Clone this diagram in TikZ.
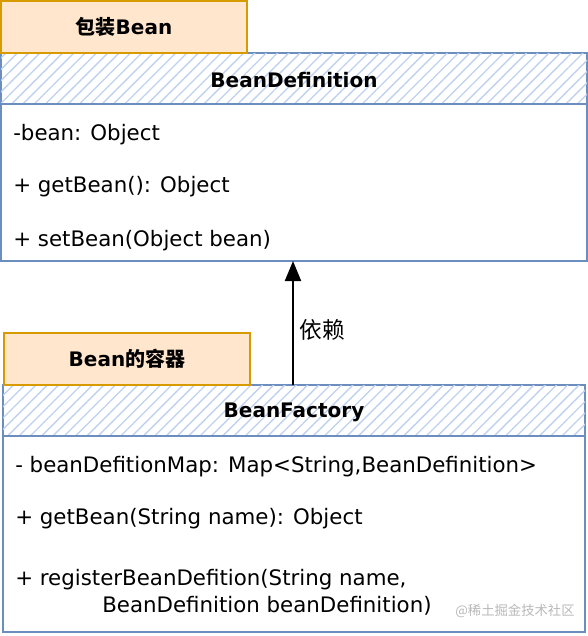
\documentclass[tikz,border=0pt]{standalone}
\usepackage{fontspec}
\setmainfont{DejaVu Sans}
\newfontfamily\cjk{Noto Sans CJK SC}
\usetikzlibrary{patterns.meta,arrows.meta}
\definecolor{hdr}{HTML}{6C8EBF}
\definecolor{hatchc}{HTML}{BFD1EE}
\definecolor{lblfill}{HTML}{FFE6CC}
\definecolor{lbldraw}{HTML}{D79B00}
\begin{document}
\begin{tikzpicture}[x=0.75pt,y=-0.75pt,
  box/.style={draw=hdr,line width=1.5pt,inner sep=0pt,outer sep=0pt},
  hdrbox/.style={box,fill=white,postaction={pattern={Lines[angle=45,distance=6pt,line width=1pt]},pattern color=hatchc},
    minimum height=38.25pt},
  bodybox/.style={box,fill=white},
  lbl/.style={draw=lbldraw,fill=lblfill,line width=1.5pt,inner sep=0pt,outer sep=0pt,
    minimum width=184.5pt,minimum height=39pt,font=\fontsize{15pt}{18pt}\selectfont\bfseries},
  title/.style={font=\fontsize{15pt}{18pt}\selectfont\bfseries,inner sep=0pt},
  member/.style={anchor=base west,inner sep=0pt,font=\fontsize{16pt}{19pt}\selectfont},
  dep/.style={line width=1.5pt,-{Triangle[width=12pt,length=15pt]}},
  deplbl/.style={font=\fontsize{17pt}{20pt}\cjk,inner sep=0pt},
  wm/.style={font=\fontsize{10pt}{12pt}\cjk,text=gray!55,inner sep=0pt}]
\useasboundingbox (0,0) rectangle (588,636);

% BeanDefinition class
\node[hdrbox,minimum width=439.5pt] (h1) at (294,78.5) {};
\node[bodybox,minimum width=439.5pt,minimum height=117.75pt] (b1) at (294,182.5) {};
\node[title] (t1) at (294,80) {BeanDefinition};
\node[member] (m11) at (13,140) {-bean: Object};
\node[member] (m12) at (13,192) {+ getBean(): Object};
\node[member] (m13) at (13,246) {+ setBean(Object bean)};
\node[lbl] (l1) at (124,27) {{\cjk 包装}Bean};

% BeanFactory class
\node[hdrbox,minimum width=436.5pt] (h2) at (294,410.5) {};
\node[bodybox,minimum width=436.5pt,minimum height=147pt] (b2) at (294,534) {};
\node[title] (t2) at (294,412) {BeanFactory};
\node[member] (m21) at (15,472) {- beanDefitionMap: Map<String,BeanDefinition>};
\node[member] (m22) at (15,524) {+ getBean(String name): Object};
\node[member] (m23) at (15,585) {+ registerBeanDefition(String name,};
\node[member] (m24) at (102,612) {BeanDefinition beanDefinition)};
\node[lbl] (l2) at (127,359) {Bean{\cjk 的容器}};

% dependency
\draw[dep] ([xshift=-0.75pt]h2.north) -- ([xshift=-0.75pt]b1.south);
\node[deplbl] (d) at (322,330) {依赖};

\node[wm] (w) at (515,611) {@稀土掘金技术社区};
\end{tikzpicture}
\end{document}
